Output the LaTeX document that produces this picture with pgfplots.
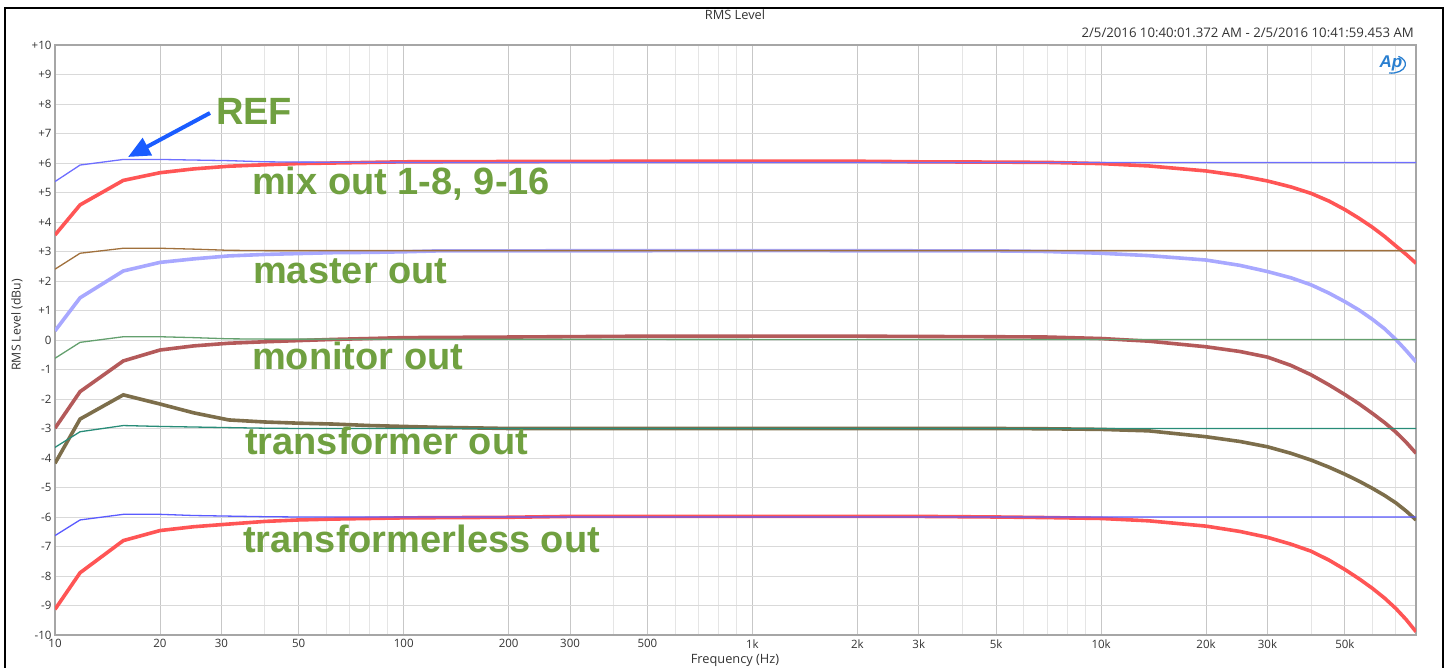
\documentclass[border=0pt]{standalone}
\usepackage{fontspec}
\setmainfont{Open Sans}
\newfontfamily\labfont{Liberation Sans}
\usepackage{pgfplots}
\pgfplotsset{compat=1.18}
\usetikzlibrary{arrows.meta}
\definecolor{refblue}{HTML}{6E6EFF}
\definecolor{reflblue}{HTML}{5A5AFF}
\definecolor{mixred}{HTML}{FF5555}
\definecolor{mastblue}{HTML}{A8A8FF}
\definecolor{monred}{HTML}{B45A5A}
\definecolor{trolive}{HTML}{7D6E4B}
\definecolor{refbrown}{HTML}{A0703C}
\definecolor{refgreen}{HTML}{64A06E}
\definecolor{refteal}{HTML}{288C78}
\definecolor{labgreen}{HTML}{70A040}
\definecolor{arrowblue}{HTML}{1A5CFF}
\definecolor{apblue}{HTML}{2A7FD0}
\begin{document}
\begin{tikzpicture}
\useasboundingbox (-55pt,-33pt) rectangle (1394pt,635pt);
\begin{axis}[
  scale only axis, width=1361pt, height=590pt,
  xmode=log, xmin=10, xmax=80000, ymin=-10, ymax=10,
  xtick={10,20,30,50,100,200,300,500,1000,2000,3000,5000,10000,20000,30000,50000},
  xticklabels={10,20,30,50,100,200,300,500,1k,2k,3k,5k,10k,20k,30k,50k},
  minor xtick={40,60,70,80,90,400,600,700,800,900,4000,6000,7000,8000,9000,40000,60000,70000},
  ytick={-10,-9,-8,-7,-6,-5,-4,-3,-2,-1,0,1,2,3,4,5,6,7,8,9,10},
  yticklabels={-10,-9,-8,-7,-6,-5,-4,-3,-2,-1,0,+1,+2,+3,+4,+5,+6,+7,+8,+9,+10},
  xmajorgrids, xminorgrids, ymajorgrids,
  major x grid style={draw=black!22, line width=0.9pt},
  minor x grid style={draw=black!10, line width=0.9pt},
  major y grid style={draw=black!15, line width=0.9pt},
  major tick length=0pt, minor tick length=0pt,
  axis line style={draw=black!35, line width=1.5pt},
  tick label style={font=\fontsize{11.5}{13}\selectfont, text=black!80},
  xticklabel style={yshift=-1pt},
]
% thick measured curves
\addplot[mixred, line width=3.6pt] coordinates {
(10,3.56)(11.8,4.58)(15.7,5.41)(20,5.67)(25,5.80)(31.5,5.89)(40,5.94)(50,5.98)(63,6.00)(80,6.02)(100,6.04)(200,6.05)(500,6.06)(1000,6.06)(2000,6.06)(3000,6.04)(5000,6.03)(7000,6.02)(10000,5.98)(13700,5.90)(20000,5.73)(25000,5.57)(30000,5.39)(35000,5.19)(40000,4.97)(45000,4.71)(50000,4.42)(55000,4.12)(60000,3.82)(65000,3.51)(70000,3.19)(75000,2.90)(80000,2.60)};
\addplot[mastblue, line width=3.6pt] coordinates {
(10,0.31)(11.8,1.43)(15.7,2.34)(20,2.63)(25,2.75)(31.5,2.85)(40,2.90)(50,2.93)(63,2.96)(80,2.97)(100,2.99)(125,3.02)(1000,3.03)(5000,3.02)(7000,3.00)(10000,2.94)(13700,2.86)(20000,2.71)(25000,2.53)(30000,2.32)(35000,2.11)(40000,1.87)(45000,1.59)(50000,1.30)(55000,1.01)(60000,0.70)(65000,0.38)(70000,0.02)(75000,-0.36)(80000,-0.74)};
\addplot[monred, line width=3.6pt] coordinates {
(10,-2.99)(11.8,-1.75)(15.7,-0.71)(20,-0.34)(25,-0.20)(31.5,-0.11)(40,-0.06)(50,-0.02)(63,0.02)(80,0.05)(100,0.08)(200,0.10)(500,0.13)(1000,0.13)(2000,0.13)(3000,0.12)(5000,0.11)(7000,0.10)(10000,0.05)(13700,-0.04)(20000,-0.23)(25000,-0.39)(30000,-0.58)(35000,-0.86)(40000,-1.18)(45000,-1.52)(50000,-1.85)(55000,-2.17)(60000,-2.49)(65000,-2.80)(70000,-3.12)(75000,-3.47)(80000,-3.84)};
\addplot[trolive, line width=3.6pt] coordinates {
(10,-4.18)(11.8,-2.68)(15.7,-1.86)(20,-2.17)(25,-2.47)(31.5,-2.71)(40,-2.78)(50,-2.82)(63,-2.85)(80,-2.90)(100,-2.93)(125,-2.96)(160,-2.98)(200,-3.00)(1000,-3.00)(5000,-3.00)(7000,-3.01)(10000,-3.03)(13700,-3.08)(20000,-3.28)(25000,-3.44)(30000,-3.62)(35000,-3.84)(40000,-4.07)(45000,-4.31)(50000,-4.55)(55000,-4.79)(60000,-5.03)(65000,-5.27)(70000,-5.52)(75000,-5.80)(80000,-6.10)};
\addplot[mixred, line width=3.6pt] coordinates {
(10,-9.13)(11.8,-7.89)(15.7,-6.80)(20,-6.46)(25,-6.33)(31.5,-6.24)(40,-6.15)(50,-6.10)(63,-6.07)(80,-6.05)(100,-6.03)(200,-6.01)(300,-5.98)(1000,-5.98)(3000,-5.98)(5000,-6.00)(7000,-6.02)(10000,-6.05)(13700,-6.13)(20000,-6.31)(25000,-6.49)(30000,-6.69)(35000,-6.92)(40000,-7.16)(45000,-7.46)(50000,-7.78)(55000,-8.10)(60000,-8.42)(65000,-8.75)(70000,-9.10)(75000,-9.48)(80000,-9.89)};
% thin reference curves
\addplot[refblue, line width=1.3pt] coordinates {
(10,5.37)(11.8,5.93)(15.7,6.12)(20,6.12)(25,6.10)(31.5,6.08)(40,6.04)(50,6.03)(100,6.02)(1000,6.02)(10000,6.02)(80000,6.02)};
\addplot[refbrown, line width=1.3pt] coordinates {
(10,2.40)(11.8,2.94)(15.7,3.11)(20,3.11)(25,3.08)(31.5,3.04)(40,3.03)(1000,3.03)(80000,3.03)};
\addplot[refgreen, line width=1.3pt] coordinates {
(10,-0.62)(11.8,-0.08)(15.7,0.11)(20,0.11)(25,0.08)(31.5,0.04)(40,0.03)(1000,0.02)(80000,0.02)};
\addplot[refteal, line width=1.3pt] coordinates {
(10,-3.64)(11.8,-3.11)(15.7,-2.90)(20,-2.93)(25,-2.95)(31.5,-2.97)(40,-2.99)(50,-3.00)(80000,-3.00)};
\addplot[reflblue, line width=1.3pt] coordinates {
(10,-6.63)(11.8,-6.10)(15.7,-5.91)(20,-5.91)(25,-5.95)(31.5,-5.97)(40,-5.99)(50,-6.00)(80000,-6.00)};
\end{axis}
% frame
\draw[black, line width=1.6pt] (-50pt,-40pt) -- (-50pt,627pt) -- (1388pt,627pt) -- (1388pt,-40pt);
% titles
\node[font=\fontsize{12.8}{14}\selectfont, text=black!80] at (680pt,620pt) {RMS Level};
\node[font=\fontsize{13.2}{15}\selectfont, text=black!80, anchor=east, inner sep=0pt] at (1359pt,602pt) {2/5/2016 10:40:01.372 AM - 2/5/2016 10:41:59.453 AM};
\node[font=\fontsize{12.8}{14}\selectfont, text=black!80] at (680pt,-25pt) {Frequency (Hz)};
\node[font=\fontsize{12.3}{14}\selectfont, text=black!80, rotate=90] at (-38pt,310pt) {RMS Level (dBu)};
% Ap logo
\node[font=\fontsize{17}{17}\selectfont\labfont\bfseries\itshape, text=apblue, inner sep=0pt] at (1336pt,572pt) {Ap};
\draw[apblue, line width=1.3pt] (1334pt,562pt) arc[start angle=-100, end angle=60, x radius=14pt, y radius=9pt];
% annotations
\draw[-{Triangle[width=19pt,length=22pt]}, line width=4pt, arrowblue] (155pt,522pt) -- (73pt,478pt);
\begin{scope}[every node/.style={font=\fontsize{38}{40}\selectfont\labfont\bfseries, text=labgreen, anchor=base west, inner sep=0pt}]
\node at (161pt,510pt) {REF};
\node at (197pt,440pt) {mix out 1-8, 9-16};
\node at (198pt,351pt) {master out};
\node at (197pt,265pt) {monitor out};
\node at (190pt,180pt) {transformer out};
\node at (188pt,82pt) {transformerless out};
\end{scope}
\end{tikzpicture}
\end{document}
